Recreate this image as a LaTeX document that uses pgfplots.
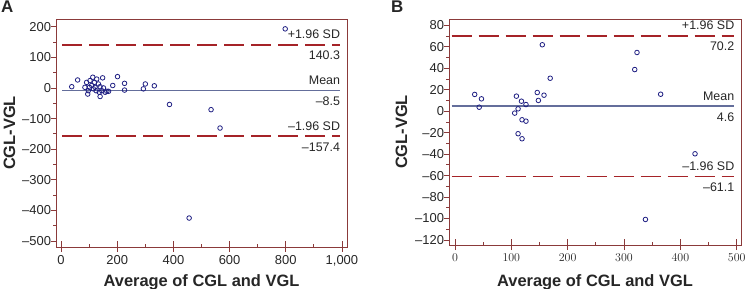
\documentclass[border=0pt]{standalone}
\usepackage{pgfplots}
\pgfplotsset{compat=1.18}
\usetikzlibrary{calc}
\usepackage{fontspec}
\setmainfont{Liberation Sans}
\definecolor{boxcol}{RGB}{139,58,58}
\definecolor{sdred}{RGB}{165,35,40}
\definecolor{meanc}{RGB}{100,110,155}
\definecolor{mk}{RGB}{30,30,130}
\pgfplotstableread{
x y
798 193
38 4
59 26
85 2
91 18
97 -9
95 -20
103 24
113 35
119 18
109 8
121 2
127 29
125 -9
133 13
139 4
136 -14
139 -28
145 -9
151 0
148 33
157 -14
163 -11
169 -11
101 2
115 -3
184 8
201 37
226 15
226 -7
293 -3
300 13
332 7
386 -54
534 -71
566 -131
456 -425
}\dataA
\pgfplotstableread{
x y
35 15.6
47 11.5
43 3.7
109 14
118 9.3
126 6.2
112 2.2
106 -1.8
119 -8
126 -9.3
112 -21
119 -25.7
155 61.9
146 17.4
158 14.9
148 10
169 30.7
319 38.8
323 54.7
365 15.8
426 -39.7
338 -100.9
}\dataB
\pgfplotsset{bastyle/.style={
  scale only axis,
  axis line style={draw=boxcol, line width=1pt},
  tick style={draw=boxcol, line width=0.8pt},
  major tick length=5bp, minor tick length=3bp,
  tick align=outside,
  xtick pos=bottom, ytick pos=left,
  tick label style={font=\fontsize{13}{15}\selectfont, text=black!85},
  yticklabel style={xshift=3.5bp},
  clip=false,
}}
\tikzset{ann/.style={inner sep=0pt, font=\fontsize{12.5}{14}\selectfont, text=black!85},
  lab/.style={font=\fontsize{16.5}{18}\selectfont\bfseries, text=black!85, inner sep=0pt},
  tk/.style={draw=boxcol, line width=0.8pt}}
\begin{document}
\begin{tikzpicture}
\useasboundingbox (0,0) rectangle (747bp,289bp);
\node[anchor=north west, inner sep=0pt, font=\fontsize{17}{18}\selectfont\bfseries, text=black!85] at (1bp,288bp) {A};
\node[anchor=north west, inner sep=0pt, font=\fontsize{17}{18}\selectfont\bfseries, text=black!85] at (391bp,288bp) {B};
\begin{axis}[bastyle, name=pa,
  at={(56bp,42bp)}, anchor=south west,
  width=291bp, height=228bp,
  xmin=-18, xmax=1018, ymin=-519.6, ymax=225.2,
  xtick={0,200,400,600,800,1000},
  xticklabels={0,200,400,600,800,{1,000}},
  ytick={-500,-400,-300,-200,-100,0,100,200},
  yticklabels={–500,–400,–300,–200,–100,0,100,200},
  xlabel={Average of CGL and VGL},
  ylabel={CGL-VGL},
  every axis y label/.style={at={([xshift=-41bp]axis description cs:0,0.5)}, rotate=90, anchor=base, lab},
  every axis x label/.style={at={([yshift=-39bp]axis description cs:0.5,0)}, anchor=base, lab},
]
\addplot[sdred, line width=1.4pt, dash pattern=on 20bp off 7bp] coordinates {(4,140.3) (994,140.3)};
\addplot[sdred, line width=1.4pt, dash pattern=on 20bp off 7bp] coordinates {(4,-157.4) (994,-157.4)};
\addplot[meanc, line width=1.5pt] coordinates {(4,-8.5) (994,-8.5)};
\addplot[only marks, mark=o, mark size=2.3bp, mark options={draw=mk, line width=0.8pt, fill=white}] table[x=x,y=y] {\dataA};
\node[ann, anchor=base east, yshift=6bp] at (axis cs:994,140.3) {+1.96 SD};
\node[ann, anchor=base east, yshift=-15bp] at (axis cs:994,140.3) {140.3};
\node[ann, anchor=base east, yshift=6bp] at (axis cs:994,-8.5) {Mean};
\node[ann, anchor=base east, yshift=-15bp] at (axis cs:994,-8.5) {–8.5};
\node[ann, anchor=base east, yshift=6bp] at (axis cs:994,-157.4) {–1.96 SD};
\node[ann, anchor=base east, yshift=-15bp] at (axis cs:994,-157.4) {–157.4};
\end{axis}
\begin{axis}[bastyle, name=pb,
  at={(449bp,44bp)}, anchor=south west,
  width=292bp, height=226bp,
  xmin=-10.6, xmax=507.6, ymin=-124.7, ymax=85.9,
  xtick={0,100,200,300,400,500},
  ytick={-120,-100,-80,-60,-40,-20,0,20,40,60,80},
  yticklabels={–120,–100,–80,–60,–40,–20,0,20,40,60,80},
  xlabel={Average of CGL and VGL},
  ylabel={CGL-VGL},
  every axis y label/.style={at={([xshift=-42bp]axis description cs:0,0.5)}, rotate=90, anchor=base, lab},
  every axis x label/.style={at={([yshift=-41bp]axis description cs:0.5,0)}, anchor=base, lab},
]
\addplot[sdred, line width=1.4pt, dash pattern=on 20bp off 7bp] coordinates {(-6,70.2) (496,70.2)};
\addplot[sdred, line width=1.4pt, dash pattern=on 20bp off 7bp] coordinates {(-6,-61.1) (496,-61.1)};
\addplot[meanc, line width=1.5pt] coordinates {(-6,4.6) (496,4.6)};
\addplot[only marks, mark=o, mark size=2.3bp, mark options={draw=mk, line width=0.8pt, fill=white}] table[x=x,y=y] {\dataB};
\node[ann, anchor=base east, yshift=6bp] at (axis cs:496,70.2) {+1.96 SD};
\node[ann, anchor=base east, yshift=-15bp] at (axis cs:496,70.2) {70.2};
\node[ann, anchor=base east, yshift=6bp] at (axis cs:496,4.6) {Mean};
\node[ann, anchor=base east, yshift=-15bp] at (axis cs:496,4.6) {4.6};
\node[ann, anchor=base east, yshift=6bp] at (axis cs:496,-61.1) {–1.96 SD};
\node[ann, anchor=base east, yshift=-15bp] at (axis cs:496,-61.1) {–61.1};
\end{axis}
\draw[boxcol, line width=1pt] (pa.south west) rectangle (pa.north east);
\draw[boxcol, line width=1pt] (pb.south west) rectangle (pb.north east);
\foreach \v in {0,200,400,600,800,1000}
  \draw[tk] ($(pa.south west)!{(\v+18)/1036}!(pa.south east)$) -- ++(0,6bp);
\foreach \v in {100,300,500,700,900}
  \draw[tk] ($(pa.south west)!{(\v+18)/1036}!(pa.south east)$) -- ++(0,3bp);
\foreach \v in {-500,-400,-300,-200,-100,0,100,200}
  \draw[tk] ($(pa.south west)!{(\v+519.6)/744.8}!(pa.north west)$) -- ++(-5bp,0);
\foreach \v in {-450,-350,-250,-150,-50,50,150}
  \draw[tk] ($(pa.south west)!{(\v+519.6)/744.8}!(pa.north west)$) -- ++(-3bp,0);
\foreach \v in {0,100,200,300,400,500}
  \draw[tk] ($(pb.south west)!{(\v+10.6)/518.2}!(pb.south east)$) -- ++(0,6bp);
\foreach \v in {50,150,250,350,450}
  \draw[tk] ($(pb.south west)!{(\v+10.6)/518.2}!(pb.south east)$) -- ++(0,3bp);
\foreach \v in {-120,-100,-80,-60,-40,-20,0,20,40,60,80}
  \draw[tk] ($(pb.south west)!{(\v+124.7)/210.6}!(pb.north west)$) -- ++(-5bp,0);
\foreach \v in {-110,-90,-70,-50,-30,-10,10,30,50,70}
  \draw[tk] ($(pb.south west)!{(\v+124.7)/210.6}!(pb.north west)$) -- ++(-3bp,0);
\end{tikzpicture}
\end{document}
